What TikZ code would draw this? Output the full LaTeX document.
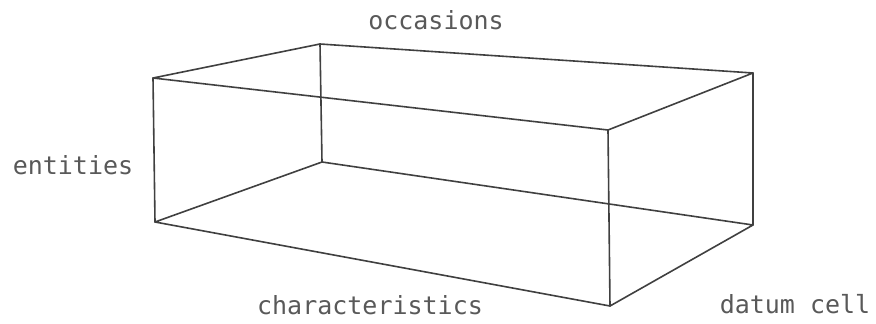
\documentclass[tikz,border=0pt]{standalone}
\usepackage{fontspec}
\newfontfamily\monofont{DejaVu Sans Mono}
\tikzset{
  edge/.style={draw=black!75, line width=1.6pt, line join=round, line cap=round},
  lbl/.style={font=\monofont\fontsize{25}{25}\selectfont, text=black!65, inner sep=0pt}
}
\begin{document}
\begin{tikzpicture}[x=1pt,y=-1pt]
\useasboundingbox (0,0) rectangle (876,324);
\coordinate (A) at (153,78);
\coordinate (B) at (320,44);
\coordinate (C) at (753,73);
\coordinate (D) at (608,130);
\coordinate (E) at (155,222);
\coordinate (F) at (322,162);
\coordinate (G) at (753,225);
\coordinate (H) at (610,306);
\draw[edge] (A) -- (B) -- (C) -- (D) -- cycle;
\draw[edge] (E) -- (F) -- (G) -- (H) -- cycle;
\draw[edge] (A) -- (E);
\draw[edge] (B) -- (F);
\draw[edge] (C) -- (G);
\draw[edge] (D) -- (H);
\node[lbl] (occ) at (436,20) {occasions};
\node[lbl] (ent) at (73,165) {entities};
\node[lbl] (cha) at (370,305) {characteristics};
\node[lbl] (dat) at (795,304) {datum cell};
\end{tikzpicture}
\end{document}
